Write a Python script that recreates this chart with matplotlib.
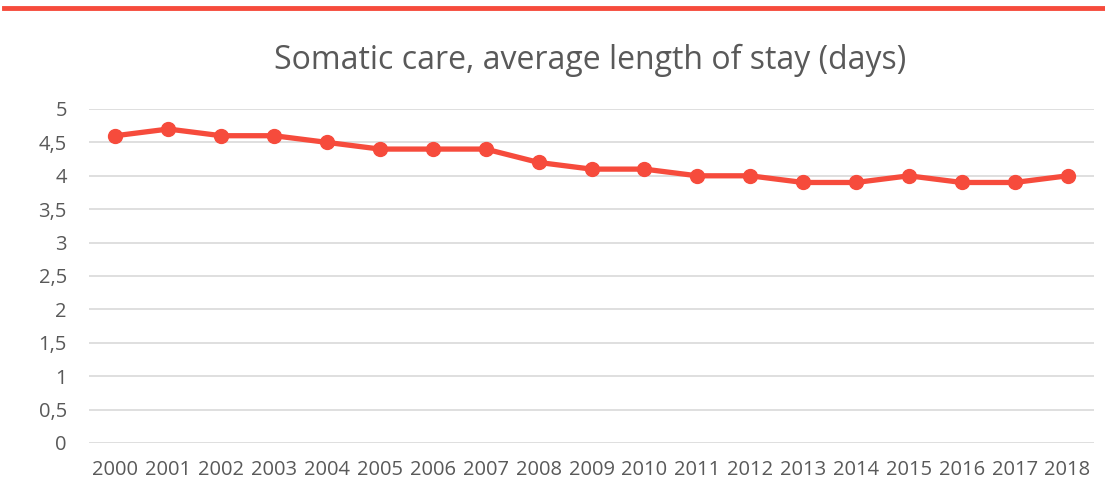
import matplotlib.pyplot as plt
from matplotlib.ticker import FuncFormatter

# Data
years = [str(y) for y in range(2000, 2019)]
avg_stay = [4.6, 4.7, 4.6, 4.6, 4.5, 4.4, 4.4, 4.4, 4.2, 4.1, 4.1,
            4.0, 4.0, 3.9, 3.9, 4.0, 3.9, 3.9, 4.0]
yticks = [0, 0.5, 1, 1.5, 2, 2.5, 3, 3.5, 4, 4.5, 5]

red = '#F64B3C'
grey = '#595959'
plt.rcParams['font.family'] = ['Open Sans', 'DejaVu Sans']

fig = plt.figure(figsize=(11.05, 5.04), dpi=100)
W, H = 1105, 504

# red rule across the top
fig.add_artist(plt.Line2D([4 / W, 1.0], [1 - 8 / H, 1 - 8 / H], color=red, lw=3.5))

ax = fig.add_axes([89 / W, 61 / H, (1094 - 89) / W, (443 - 109) / H])
x = list(range(len(years)))
ax.plot(x, avg_stay, color=red, lw=3.8, marker='o', markersize=10, clip_on=False, zorder=3)

ax.set_xlim(-0.5, len(years) - 0.5)
ax.set_ylim(0, 5)
ax.set_yticks(yticks)
ax.yaxis.set_major_formatter(FuncFormatter(lambda v, p: f'{v:g}'.replace('.', ',')))
ax.set_xticks(x)
ax.set_xticklabels(years)
ax.grid(axis='y', color='#D9D9D9', lw=1.2)
ax.set_axisbelow(True)
for s in ax.spines.values():
    s.set_visible(False)
ax.tick_params(length=0, labelsize=14.5, colors=grey)
ax.tick_params(axis='y', pad=16)
ax.tick_params(axis='x', pad=12)

fig.text(590 / W, 1 - 60 / H, 'Somatic care, average length of stay (days)',
         ha='center', va='center', fontsize=23, color=grey)

fig.savefig('out.png', dpi=100)
